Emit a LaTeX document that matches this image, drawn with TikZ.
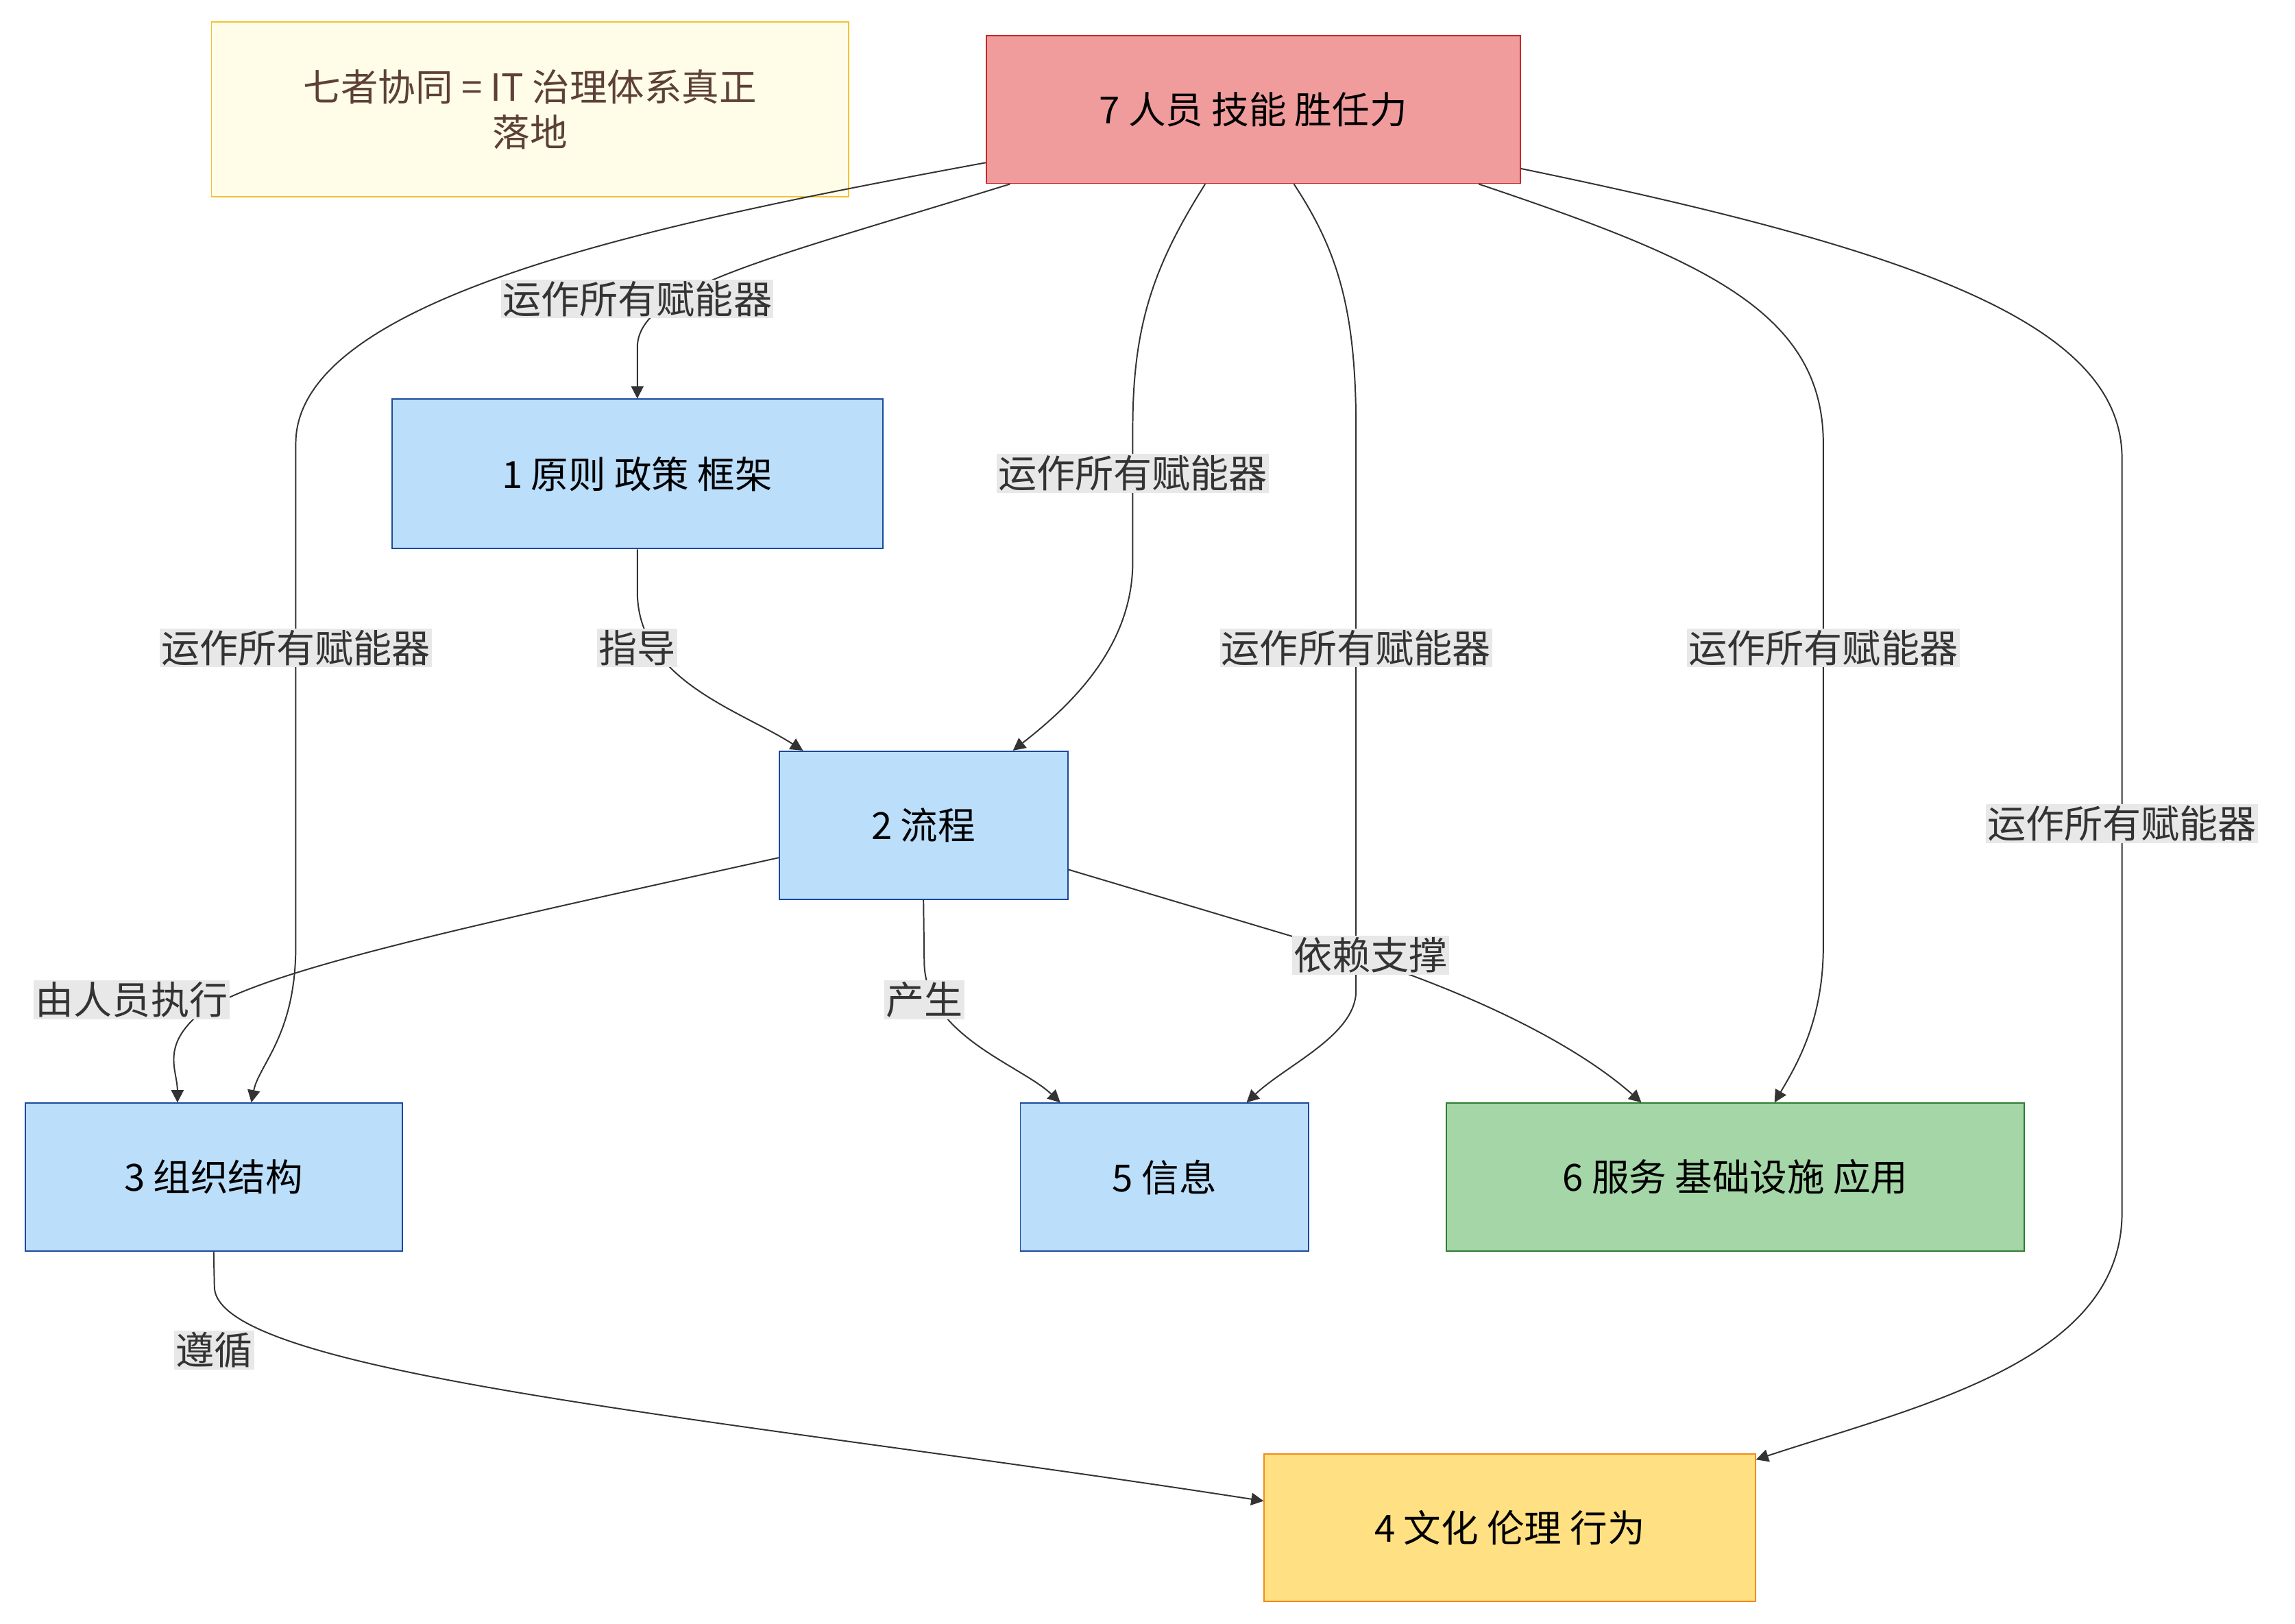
\documentclass[tikz,border=0pt]{standalone}
\usepackage{fontspec}
\setmainfont{Noto Sans CJK SC}
\usetikzlibrary{calc,arrows.meta}
\newlength\uu \setlength\uu{0.05cm}
\definecolor{bluef}{HTML}{BBDEFB}\definecolor{blued}{HTML}{1A4A9C}
\definecolor{redf}{HTML}{F09C9C}\definecolor{redd}{HTML}{C62828}
\definecolor{greenf}{HTML}{A5D6A7}\definecolor{greend}{HTML}{2E7D32}
\definecolor{yelf}{HTML}{FFE082}\definecolor{yeld}{HTML}{F38A1A}
\definecolor{notef}{HTML}{FFFDE7}\definecolor{noted}{HTML}{F2C230}
\definecolor{notet}{HTML}{5D4037}
\definecolor{lblf}{HTML}{E8E8E8}\definecolor{ink}{HTML}{333333}
\begin{document}
\begin{tikzpicture}[x=0.05cm,y=-0.05cm,
  box/.style={draw,line width=1.3pt,font=\fontsize{36}{44}\selectfont,text=black,inner sep=0pt},
  blue/.style={box,fill=bluef,draw=blued},
  lbl/.style={fill=lblf,text=ink,font=\fontsize{37}{44}\selectfont,inner sep=1.5pt},
  arr/.style={draw=ink,line width=1.3pt,-{Triangle[length=12pt,width=12pt]}}]
\useasboundingbox[fill=white] (0,0) rectangle (1552,1098);
\node[box,fill=notef,draw=noted,text=notet,minimum width=431\uu,minimum height=118\uu,align=center] (note) at (358.5,74) {七者协同 = IT 治理体系真正\\落地};
\node[box,fill=redf,draw=redd,minimum width=361\uu,minimum height=100\uu] (n7) at (847.5,74) {7 人员 技能 胜任力};
\node[blue,minimum width=332\uu,minimum height=101\uu] (n1) at (431,320.5) {1 原则 政策 框架};
\node[blue,minimum width=195\uu,minimum height=100\uu] (n2) at (624.5,558) {2 流程};
\node[blue,minimum width=255\uu,minimum height=100\uu] (n3) at (144.5,796) {3 组织结构};
\node[blue,minimum width=195\uu,minimum height=100\uu] (n5) at (787.5,796) {5 信息};
\node[box,fill=greenf,draw=greend,minimum width=391\uu,minimum height=100\uu] (n6) at (1173.5,796) {6 服务 基础设施 应用};
\node[box,fill=yelf,draw=yeld,minimum width=332\uu,minimum height=100\uu] (n4) at (1021,1033) {4 文化 伦理 行为};

\draw[arr] ($(n7.south)+(-164.5,0)$) .. controls (520,175) and (431,195) .. (431,235) -- (n1.north);
\draw[arr] ($(n7.west)+(0,36)$) .. controls (450,150) and (200,200) .. (200,300) -- (200,640) .. controls (200,700) and (175,720) .. ($(n3.north)+(25.5,0)$);
\draw[arr] ($(n7.south)+(-32.5,0)$) .. controls (780,180) and (766,220) .. (766,290) -- (766,380) .. controls (766,440) and (720,480) .. ($(n2.north)+(60.5,0)$);
\draw[arr] ($(n7.south)+(27.5,0)$) .. controls (905,170) and (917,210) .. (917,290) -- (917,670) .. controls (917,700) and (870,720) .. ($(n5.north)+(55.5,0)$);
\draw[arr] ($(n7.south)+(152.5,0)$) .. controls (1150,175) and (1233,210) .. (1233,300) -- (1233,640) .. controls (1233,690) and (1215,720) .. ($(n6.north)+(26.5,0)$);
\draw[arr] ($(n7.east)+(0,40)$) .. controls (1300,170) and (1435,220) .. (1435,310) -- (1435,820) .. controls (1435,920) and (1300,950) .. ($(n4.east)+(0,-46)$);
\draw[arr] (n1.south) -- (431,400) .. controls (431,460) and (500,480) .. ($(n2.north)+(-81.5,0)$);
\draw[arr] ($(n2.west)+(0,22)$) .. controls (300,630) and (160,660) .. (130,690) .. controls (110,710) and (120,725) .. ($(n3.north)+(-24.5,0)$);
\draw[arr] (n2.south) -- (625,650) .. controls (625,700) and (690,720) .. ($(n5.north)+(-70.5,0)$);
\draw[arr] ($(n2.east)+(0,30)$) -- (880,635) .. controls (1000,670) and (1070,710) .. ($(n6.north)+(-63.5,0)$);
\draw[arr] (n3.south) -- (145,870) .. controls (145,930) and (500,960) .. ($(n4.west)+(0,-18)$);

\node[lbl] (l1) at (431,202) {运作所有赋能器};
\node[lbl] (l2) at (200,438) {运作所有赋能器};
\node[lbl] (l3) at (766,320) {运作所有赋能器};
\node[lbl] (l4) at (917,438) {运作所有赋能器};
\node[lbl] (l5) at (1233,438) {运作所有赋能器};
\node[lbl] (l6) at (1435,557) {运作所有赋能器};
\node[lbl] (l7) at (431,438) {指导};
\node[lbl] (l8) at (89,676) {由人员执行};
\node[lbl] (l9) at (625,676) {产生};
\node[lbl] (l10) at (927,646) {依赖支撑};
\node[lbl] (l11) at (145,913) {遵循};
\end{tikzpicture}
\end{document}
